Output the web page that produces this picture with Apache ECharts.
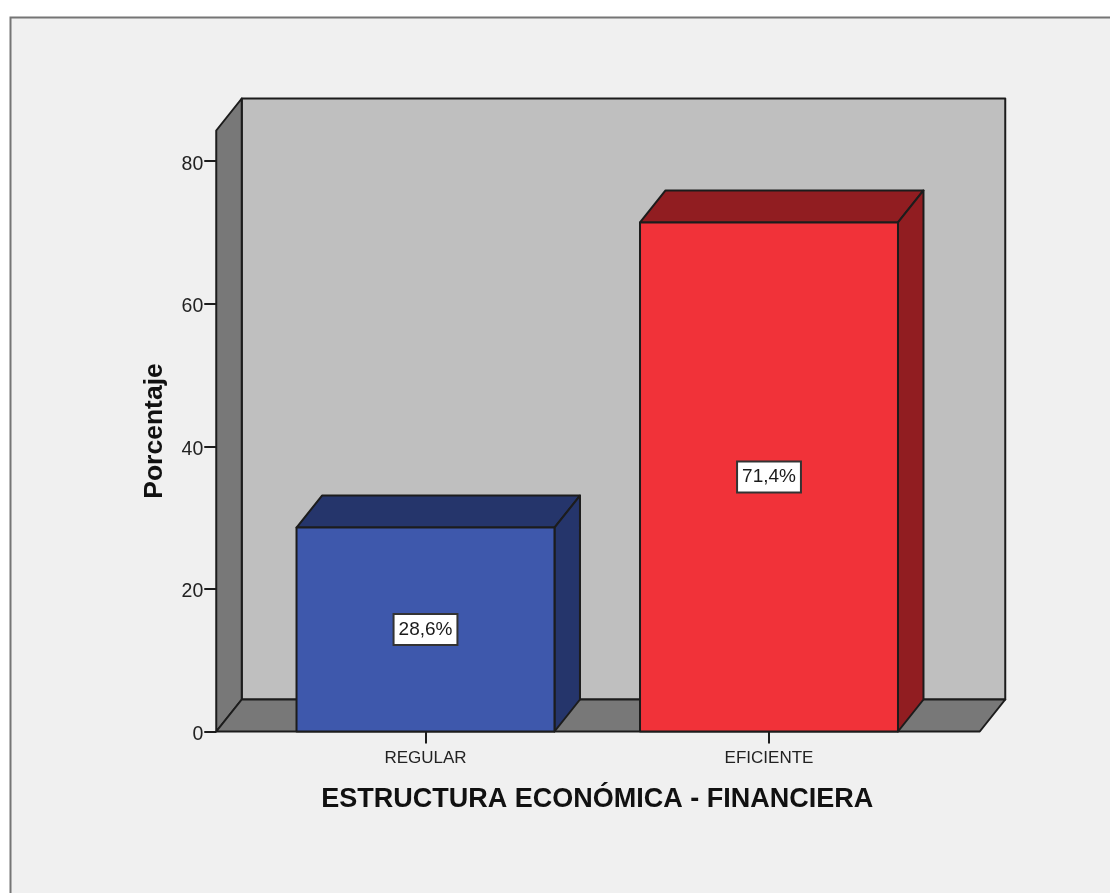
<!DOCTYPE html>
<html>
<head>
<meta charset="utf-8">
<style>html,body{margin:0;padding:0;background:#fff;overflow:hidden}#c{width:1110px;height:893px}</style>
<script src="https://cdn.jsdelivr.net/npm/echarts@6/dist/echarts.min.js"></script>
</head>
<body>
<div id="c"></div>
<script>
var categories = ['REGULAR', 'EFICIENTE'];
var percentages = [28.6, 71.4];
var valueLabels = ['28,6%', '71,4%'];
var yTicks = [0, 20, 40, 60, 80];
var frontColors = ['#3e58ac', '#f13239'];
var shadeColors = ['#25356b', '#911d21'];
var xTitle = 'ESTRUCTURA ECONÓMICA - FINANCIERA';
var yTitle = 'Porcentaje';

var DX = 25.5, DY = -32, LEFT_PAD = 37.5, RIGHT_PAD = 39;
var INK = '#1c1c1c';
var FONT = '"Liberation Sans", Arial, sans-serif';

function poly(points, fill) {
  return { type: 'polygon', shape: { points: points }, style: { fill: fill, stroke: INK, lineWidth: 2, lineJoin: 'round' } };
}

function renderWalls(params, api) {
  var g = params.coordSys;
  var l = g.x - LEFT_PAD, r = g.x + g.width + RIGHT_PAD, t = g.y, b = g.y + g.height;
  return { type: 'group', children: [
    poly([[l + DX, t + DY], [r + DX, t + DY], [r + DX, b + DY], [l + DX, b + DY]], '#bfbfbf'),
    poly([[l, t], [l + DX, t + DY], [l + DX, b + DY], [l, b]], '#787878'),
    poly([[l, b], [l + DX, b + DY], [r + DX, b + DY], [r, b]], '#787878')
  ] };
}

function renderBar(params, api) {
  var i = api.value(0), v = api.value(1);
  var base = api.coord([i, 0]), top = api.coord([i, v]);
  var w = api.size([1, 0])[0] * 0.751;
  var l = base[0] - w / 2, r = base[0] + w / 2, t = top[1], b = base[1];
  return { type: 'group', children: [
    poly([[l, t], [l + DX, t + DY], [r + DX, t + DY], [r, t]], shadeColors[i]),
    poly([[r, t], [r + DX, t + DY], [r + DX, b + DY], [r, b]], shadeColors[i]),
    poly([[l, t], [r, t], [r, b], [l, b]], frontColors[i]),
    { type: 'text', x: base[0], y: (t + b) / 2, style: {
        text: valueLabels[i], font: '19px ' + FONT, fill: '#1a1a1a', align: 'center', verticalAlign: 'middle',
        backgroundColor: '#fff', borderColor: '#333', borderWidth: 2, padding: [5, 4, 5, 4]
    } }
  ] };
}

var chart = echarts.init(document.getElementById('c'), null, { renderer: 'canvas' });
chart.setOption({
  animation: false,
  backgroundColor: '#fff',
  graphic: [{ type: 'rect', z: -10, silent: true, shape: { x: 10.5, y: 17.5, width: 1300, height: 1100 },
    style: { fill: '#f0f0f0', stroke: '#757575', lineWidth: 2 } }],
  grid: { left: 253.75, width: 687, top: 130.5, height: 601 },
  xAxis: {
    type: 'category', data: categories, boundaryGap: true,
    axisLine: { show: false },
    axisTick: { show: true, alignWithLabel: true, length: 12, lineStyle: { color: INK, width: 2 } },
    axisLabel: { color: '#222', fontFamily: FONT, fontSize: 17, margin: 18 },
    name: xTitle, nameLocation: 'middle', nameGap: 55,
    nameTextStyle: { color: '#111', fontFamily: FONT, fontSize: 27, fontWeight: 'bold' }
  },
  yAxis: {
    type: 'value', min: 0, max: 84.3, offset: 37.5,
    splitLine: { show: false }, axisLine: { show: false },
    axisTick: { show: true, length: 12, lineStyle: { color: INK, width: 2 }, customValues: yTicks },
    axisLabel: { color: '#222', fontFamily: FONT, fontSize: 19.5, margin: 13, verticalAlign: 'top', lineHeight: 6, customValues: yTicks },
    name: yTitle, nameLocation: 'middle', nameGap: 48,
    nameTextStyle: { color: '#111', fontFamily: FONT, fontSize: 26.5, fontWeight: 'bold' }
  },
  series: [
    { type: 'custom', z: 1, silent: true, clip: false, renderItem: renderWalls, data: [[0, 0]] },
    { type: 'custom', z: 2, silent: true, clip: false, renderItem: renderBar,
      encode: { x: 0, y: 1 },
      data: percentages.map(function (p, i) { return [i, p]; }) }
  ]
});
</script>
</body>
</html>
